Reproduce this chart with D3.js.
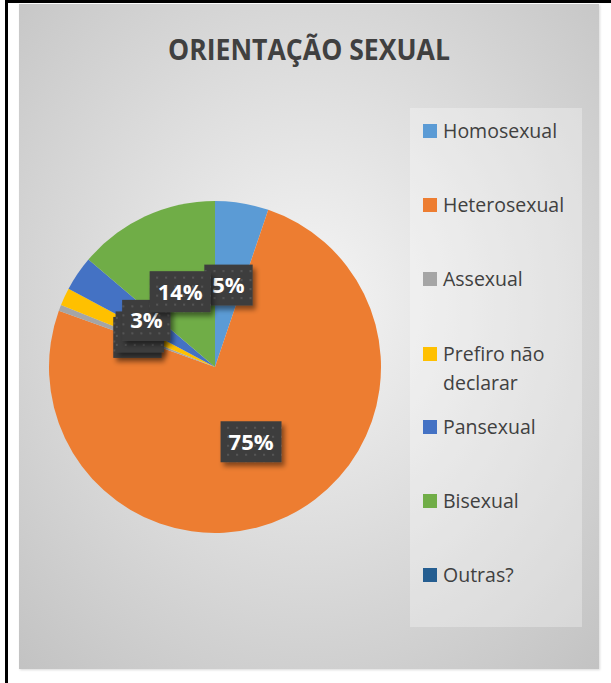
<!DOCTYPE html>
<html>
<head>
<meta charset="utf-8">
<script src="https://cdn.jsdelivr.net/npm/d3@7"></script>
<style>
  body { margin: 0; background: #fff; }
  svg { display: block; }
</style>
</head>
<body>
<script>
/* data */
const categories = ['Homosexual', 'Heterosexual', 'Assexual', 'Prefiro não declarar', 'Pansexual', 'Bisexual', 'Outras?'];
const values = [5.2, 75.3, 0.6, 1.7, 3.4, 13.8, 0];
const colors = ['#5B9BD5', '#ED7D31', '#A5A5A5', '#FFC000', '#4472C4', '#70AD47', '#255E91'];
const legendLines = [['Homosexual'], ['Heterosexual'], ['Assexual'], ['Prefiro não', 'declarar'], ['Pansexual'], ['Bisexual'], ['Outras?']];
const title = 'ORIENTAÇÃO SEXUAL';

/* canvas size */
const width = 611;
const height = 683;
const chart = { x: 19, y: 4, w: 580, h: 665 };
const cx = 215, cy = 367, radius = 166;

const svg = d3.select('body').append('svg')
    .attr('width', width)
    .attr('height', height);

const defs = svg.append('defs');

/* chart background gradient */
const bg = defs.append('radialGradient').attr('id', 'bg')
    .attr('cx', '50%').attr('cy', '45%').attr('r', '75%');
bg.append('stop').attr('offset', '0%').attr('stop-color', '#f5f5f5');
bg.append('stop').attr('offset', '100%').attr('stop-color', '#c2c2c2');

/* dotted pattern for data labels */
const pat = defs.append('pattern').attr('id', 'dots')
    .attr('width', 9).attr('height', 9).attr('patternUnits', 'userSpaceOnUse');
pat.append('rect').attr('width', 9).attr('height', 9).attr('fill', '#3e3e3e');
pat.append('rect').attr('x', 3).attr('y', 3).attr('width', 2).attr('height', 2).attr('fill', '#555');

/* shadows */
const sh = defs.append('filter').attr('id', 'shadow')
    .attr('x', '-20%').attr('y', '-20%').attr('width', '150%').attr('height', '160%');
sh.append('feDropShadow').attr('dx', 3).attr('dy', 4).attr('stdDeviation', 2.5)
    .attr('flood-color', '#000').attr('flood-opacity', 0.45);

const csh = defs.append('filter').attr('id', 'cshadow')
    .attr('x', '-5%').attr('y', '-5%').attr('width', '110%').attr('height', '110%');
csh.append('feDropShadow').attr('dx', 1).attr('dy', 1).attr('stdDeviation', 1)
    .attr('flood-color', '#000').attr('flood-opacity', 0.15);

/* page border lines */
svg.append('rect').attr('x', 5).attr('y', 0).attr('width', width - 5).attr('height', 3).attr('fill', '#000');
svg.append('rect').attr('x', 5).attr('y', 0).attr('width', 3).attr('height', height).attr('fill', '#000');

/* chart area */
svg.append('rect')
    .attr('x', chart.x).attr('y', chart.y)
    .attr('width', chart.w).attr('height', chart.h)
    .attr('fill', 'url(#bg)')
    .attr('filter', 'url(#cshadow)');

/* title */
svg.append('text')
    .attr('x', 309).attr('y', 60)
    .attr('text-anchor', 'middle')
    .attr('font-family', 'Open Sans, sans-serif')
    .attr('font-weight', 'bold')
    .attr('font-size', 29)
    .attr('fill', '#404040')
    .attr('textLength', 282)
    .attr('lengthAdjust', 'spacingAndGlyphs')
    .text(title);

/* pie */
const pie = d3.pie().sort(null).value(d => d);
const arc = d3.arc().innerRadius(0).outerRadius(radius);
const arcs = pie(values);

const g = svg.append('g').attr('transform', `translate(${cx},${cy})`);
g.selectAll('path').data(arcs).enter().append('path')
    .attr('d', arc)
    .attr('fill', (d, i) => colors[i]);

/* data labels (hidden ones overlap, as in the original) */
const labels = g.selectAll('g.lbl').data(arcs.filter(d => d.value > 0)).enter()
    .append('g').attr('class', 'lbl')
    .attr('transform', d => `translate(${arc.centroid(d)})`);

labels.each(function (d) {
  const sel = d3.select(this);
  const txt = Math.round(d.value) + '%';
  const t = sel.append('text')
      .attr('text-anchor', 'middle')
      .attr('dy', '0.36em')
      .attr('font-family', 'Open Sans, sans-serif')
      .attr('font-weight', 'bold')
      .attr('font-size', 22)
      .attr('fill', '#fff')
      .text(txt);
  const w = t.node().getComputedTextLength() + 16;
  sel.insert('rect', 'text')
      .attr('x', -w / 2).attr('y', -20.5)
      .attr('width', w).attr('height', 41)
      .attr('fill', 'url(#dots)')
      .attr('filter', 'url(#shadow)');
});

/* legend */
const legend = svg.append('g');
legend.append('rect')
    .attr('x', 410).attr('y', 108)
    .attr('width', 172).attr('height', 519)
    .attr('fill', '#fff').attr('fill-opacity', 0.3);

const legendY = [131, 205, 279, 354, 427, 501, 575];
const item = legend.selectAll('g.item').data(categories).enter()
    .append('g').attr('class', 'item')
    .attr('transform', (d, i) => `translate(423,${legendY[i]})`);
item.append('rect')
    .attr('x', 0).attr('y', -7)
    .attr('width', 14).attr('height', 14)
    .attr('fill', (d, i) => colors[i]);
item.append('text')
    .attr('x', 20).attr('y', 0)
    .attr('font-family', 'Open Sans, sans-serif')
    .attr('font-size', 19.5)
    .attr('fill', '#404040')
    .each(function (d, i) {
      const t = d3.select(this);
      legendLines[i].forEach((line, j) => {
        t.append('tspan').attr('x', 20).attr('dy', j === 0 ? '0.35em' : '1.48em').text(line);
      });
    });
</script>
</body>
</html>
